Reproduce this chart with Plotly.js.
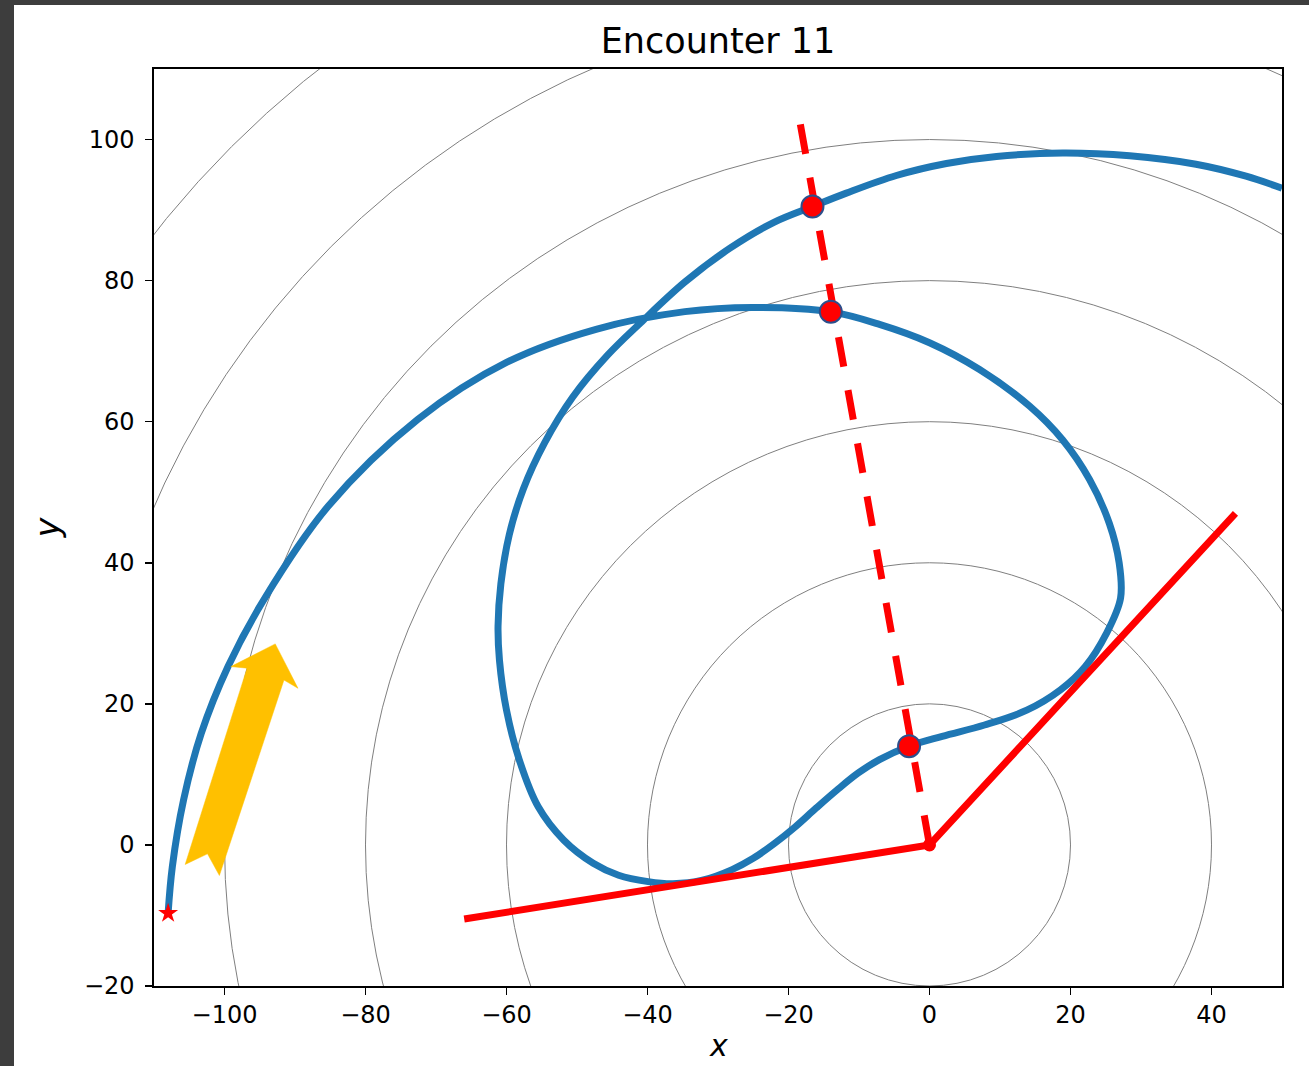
<!DOCTYPE html>
<html>
<head>
<meta charset="utf-8">
<script src="https://cdn.plot.ly/plotly-3.0.1.min.js"></script>
<style>
  html, body { margin: 0; padding: 0; background: #3d3d3d; width: 1309px; height: 1066px; overflow: hidden; }
  #chart { position: absolute; left: 14px; top: 5px; width: 1295px; height: 1061px; background: #ffffff; }
</style>
</head>
<body>
<div id="chart"></div>
<script>
// ---- data ----
const circleRadii = [20, 40, 60, 80, 100, 120, 140];

const trajX = [-108.0, -107.4, -105.8, -103.3, -99.5, -94.4, -85.3, -72.6, -60.0, -47.3, -34.7, -25.1,
  -14.1, -7.1, 0.0, 7.1, 14.2, 18.9, 22.7, 25.5, 26.9, 27.1, 25.1, 22.1, 18.6, 13.8, 7.8, 1.8,
  -2.9, -7.1, -10.1, -13.1, -16.1, -19.0, -22.0, -25.0, -28.0, -32.2, -36.4, -39.9, -44.1, -47.7,
  -51.9, -55.5, -58.2, -60.0, -61.0, -61.2, -60.8, -59.6, -57.6, -54.6, -50.6, -45.6, -41.0,
  -34.7, -28.3, -22.0, -16.6, -11.8, -4.7, 2.4, 9.5, 18.9, 28.4, 37.8, 44.9, 50.0];
const trajY = [-9.7, -3.1, 6.4, 15.8, 25.3, 34.8, 48.0, 60.3, 68.4, 73.1, 75.6, 76.2,
  75.6, 73.8, 71.2, 67.4, 62.2, 57.4, 51.8, 45.6, 40.0, 35.0, 30.0, 25.3, 22.0, 19.1, 17.0, 15.4,
  14.0, 12.1, 10.2, 7.8, 5.2, 2.6, 0.2, -1.9, -3.5, -5.0, -5.5, -5.2, -4.3, -2.6,
  0.7, 5.4, 12.1, 19.1, 26.2, 31.0, 37.0, 44.0, 50.5, 57.0, 63.5, 69.5, 74.0,
  79.8, 84.6, 88.3, 90.5, 92.4, 94.9, 96.6, 97.6, 98.1, 97.7, 96.5, 94.8, 93.1];

const crossingX = [-16.6, -14.0, -2.9];
const crossingY = [90.5, 75.6, 14.0];

const rayX = [0.0, -18.4];
const rayY = [0.0, 102.6];

const wedgeX = [-66.0, 0.0, 43.4];
const wedgeY = [-10.5, 0.0, 47.0];

const originX = [0.0];
const originY = [0.0];

const startX = [-108.0];
const startY = [-9.7];

const arrowFrom = [-103.15, -3.55];
const arrowTo = [-92.8, 28.5];

const xTickVals = [-100, -80, -60, -40, -20, 0, 20, 40];
const yTickVals = [-20, 0, 20, 40, 60, 80, 100];

// ---- arrow polygon (built from its start/end) ----
function arrowPolygon(from, to) {
  const dx = to[0] - from[0], dy = to[1] - from[1];
  const L = Math.hypot(dx, dy);
  const ux = dx / L, uy = dy / L;
  const nx = uy, ny = -ux;
  const headLen = 5.0, headHalf = 5.0, shoulderLen = 4.5, bodyHalf = 2.75, tailHalf = 2.55, notch = 2.4;
  const P = (base, a, b) => [base[0] + a * ux + b * nx, base[1] + a * uy + b * ny];
  const pts = [
    to,
    P(to, -headLen, headHalf),
    P(to, -shoulderLen, bodyHalf),
    P(from, 0, tailHalf),
    P(from, notch, 0),
    P(from, 0, -tailHalf),
    P(to, -shoulderLen, -bodyHalf),
    P(to, -headLen, -headHalf),
    to
  ];
  return { x: pts.map(p => p[0]), y: pts.map(p => p[1]) };
}
const arrowPoly = arrowPolygon(arrowFrom, arrowTo);

const shapes = circleRadii.map(r => ({
  type: 'circle', xref: 'x', yref: 'y', x0: -r, x1: r, y0: -r, y1: r,
  line: { color: '#7f7f7f', width: 1 }, layer: 'below'
}));

const traces = [
  { x: trajX, y: trajY, mode: 'lines', line: { color: '#1f77b4', width: 7, shape: 'spline', smoothing: 1.0 }, hoverinfo: 'skip' },
  { x: wedgeX, y: wedgeY, mode: 'lines', line: { color: '#ff0000', width: 7 }, hoverinfo: 'skip' },
  { x: rayX, y: rayY, mode: 'lines', line: { color: '#ff0000', width: 7, dash: '30px,24px' }, hoverinfo: 'skip' },
  { x: originX, y: originY, mode: 'markers', marker: { color: '#ff0000', size: 13 }, hoverinfo: 'skip' },
  { x: crossingX, y: crossingY, mode: 'markers', marker: { color: '#ff0000', size: 22, line: { color: '#2c4f8c', width: 2 } }, hoverinfo: 'skip' },
  { x: startX, y: startY, mode: 'markers', marker: { color: '#ff0000', symbol: 'star', size: 15 }, hoverinfo: 'skip' },
  { x: arrowPoly.x, y: arrowPoly.y, mode: 'lines', fill: 'toself', fillcolor: '#ffc000', line: { color: '#ffc000', width: 0.5 }, hoverinfo: 'skip' }
];

const axisCommon = {
  showgrid: false, zeroline: false, showline: true, mirror: true,
  linecolor: '#000000', linewidth: 1.6, ticks: 'outside', ticklen: 7, tickwidth: 1.5, tickcolor: '#000000',
  tickfont: { family: 'DejaVu Sans', size: 24, color: '#000000' }
};

const layout = {
  width: 1295, height: 1061,
  margin: { l: 140, r: 27, t: 64, b: 80 },
  paper_bgcolor: '#ffffff', plot_bgcolor: '#ffffff',
  showlegend: false,
  title: { text: 'Encounter 11', font: { family: 'DejaVu Sans', size: 35, color: '#000000' },
           x: 0.5, xanchor: 'center', xref: 'paper', y: 1 - 36 / 1061, yanchor: 'middle', yref: 'container' },
  xaxis: Object.assign({}, axisCommon, {
    range: [-110, 50], tickmode: 'array', tickvals: xTickVals, ticklabelstandoff: 0
  }),
  yaxis: Object.assign({}, axisCommon, {
    range: [-20, 110], tickmode: 'array', tickvals: yTickVals, ticklabelstandoff: 6,
    title: { text: '<i>y</i>', font: { family: 'DejaVu Sans', size: 33, color: '#000000' }, standoff: 14 }
  }),
  annotations: [{
    text: '<i>x</i>', xref: 'paper', yref: 'paper', x: 0.5, y: 0, xanchor: 'center', yanchor: 'top',
    yshift: -41, borderpad: 0, showarrow: false,
    font: { family: 'DejaVu Sans', size: 30, color: '#000000' }
  }],
  shapes: shapes
};

Plotly.newPlot('chart', traces, layout, { displayModeBar: false, staticPlot: true });
</script>
</body>
</html>
